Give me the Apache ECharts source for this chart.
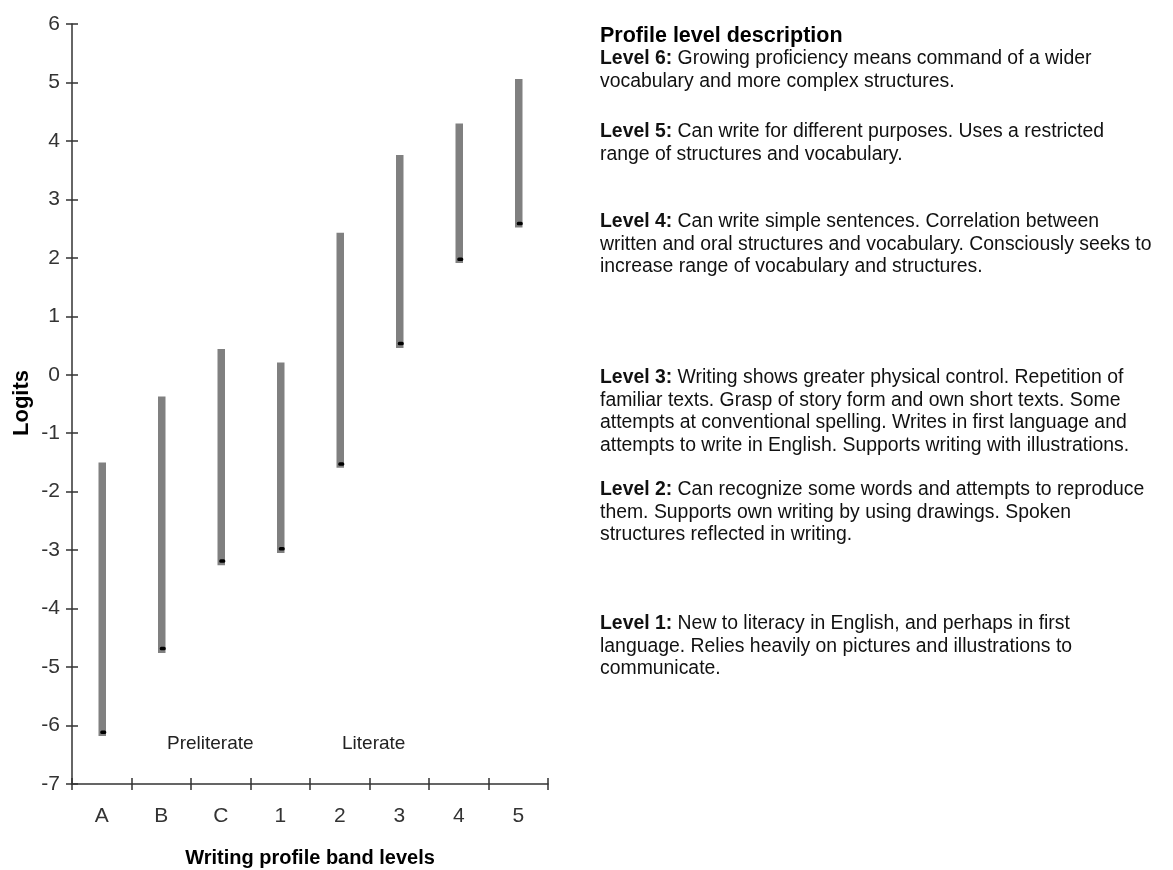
<!DOCTYPE html>
<html>
<head>
<meta charset="utf-8">
<script src="https://cdn.jsdelivr.net/npm/echarts@6/dist/echarts.min.js"></script>
<style>
html,body{margin:0;padding:0;background:#fff;}
#main{width:1173px;height:870px;}
</style>
</head>
<body>
<div id="main"></div>
<script>
var categories = ['A', 'B', 'C', '1', '2', '3', '4', '5'];
var rangeLow = [-6.18, -4.76, -3.26, -3.05, -1.59, 0.46, 1.91, 2.52];
var rangeHigh = [-1.50, -0.37, 0.44, 0.21, 2.43, 3.76, 4.30, 5.06];
var markValue = [-6.11, -4.68, -3.18, -2.97, -1.52, 0.54, 1.98, 2.59];
var yTicks = {min: -7, max: 6, interval: 1};
var axisTitleY = 'Logits';
var axisTitleX = 'Writing profile band levels';
var groupLabels = ['Preliterate', 'Literate'];
var descTitle = 'Profile level description';
var descLevels = [
  ['Level 6:', ' Growing proficiency means command of a wider', 'vocabulary and more complex structures.'],
  ['Level 5:', ' Can write for different purposes. Uses a restricted', 'range of structures and vocabulary.'],
  ['Level 4:', ' Can write simple sentences. Correlation between', 'written and oral structures and vocabulary. Consciously seeks to', 'increase range of vocabulary and structures.'],
  ['Level 3:', ' Writing shows greater physical control. Repetition of', 'familiar texts. Grasp of story form and own short texts. Some', 'attempts at conventional spelling. Writes in first language and', 'attempts to write in English. Supports writing with illustrations.'],
  ['Level 2:', ' Can recognize some words and attempts to reproduce', 'them. Supports own writing by using drawings. Spoken', 'structures reflected in writing.'],
  ['Level 1:', ' New to literacy in English, and perhaps in first', 'language. Relies heavily on pictures and illustrations to', 'communicate.']
];
var descFirstLineY = [59, 132, 222, 378, 490, 624];

var seriesData = categories.map(function (c, i) {
  return [i, rangeLow[i], rangeHigh[i], markValue[i]];
});

var FONT = '"Liberation Sans", Arial, sans-serif';
var LH = 22.5;
var chart = echarts.init(document.getElementById('main'));

var graphics = [];
graphics.push({
  type: 'text', x: 600, y: 36,
  style: {text: descTitle, font: 'bold 21.5px ' + FONT, fill: '#000', verticalAlign: 'middle'}
});
descLevels.forEach(function (lv, k) {
  var rich = '{b|' + lv[0] + '}' + lv[1];
  for (var j = 2; j < lv.length; j++) rich += '\n' + lv[j];
  graphics.push({
    type: 'text', x: 600, y: descFirstLineY[k] - LH / 2,
    style: {
      text: rich, font: '19.4px ' + FONT, fill: '#111', lineHeight: LH, verticalAlign: 'top',
      rich: {b: {font: 'bold 19.4px ' + FONT, fill: '#111', lineHeight: LH}}
    }
  });
});
graphics.push({
  type: 'text', x: 167, y: 744,
  style: {text: groupLabels[0], font: '19px ' + FONT, fill: '#222', verticalAlign: 'middle'}
});
graphics.push({
  type: 'text', x: 342, y: 744,
  style: {text: groupLabels[1], font: '19px ' + FONT, fill: '#222', verticalAlign: 'middle'}
});
graphics.push({
  type: 'text', x: 310, y: 858,
  style: {text: axisTitleX, font: 'bold 20px ' + FONT, fill: '#000', align: 'center', verticalAlign: 'middle'}
});
graphics.push({
  type: 'text', x: 22, y: 403, rotation: Math.PI / 2,
  style: {text: axisTitleY, font: 'bold 22px ' + FONT, fill: '#000', align: 'center', verticalAlign: 'middle'}
});

var tickStyle = {color: '#333', width: 1.5};
var option = {
  animation: false,
  backgroundColor: '#fff',
  grid: {left: 72, right: 625, top: 24, bottom: 86},
  xAxis: [{
    type: 'category', data: categories, boundaryGap: true, position: 'bottom',
    axisLine: {show: true, onZero: false, lineStyle: tickStyle},
    axisTick: {show: true, length: 6, lineStyle: tickStyle},
    axisLabel: {fontSize: 21, color: '#333', margin: 22, fontFamily: FONT},
    splitLine: {show: false}
  }, {
    type: 'category', data: categories, boundaryGap: true, position: 'bottom',
    axisLine: {show: false, onZero: false},
    axisTick: {show: true, inside: true, length: 6, lineStyle: tickStyle},
    axisLabel: {show: false}, splitLine: {show: false}
  }],
  yAxis: [{
    type: 'value', min: yTicks.min, max: yTicks.max, interval: yTicks.interval, position: 'left',
    axisLine: {show: true, onZero: false, lineStyle: tickStyle},
    axisTick: {show: true, length: 6, lineStyle: tickStyle},
    axisLabel: {fontSize: 21, color: '#333', margin: 12, fontFamily: FONT},
    splitLine: {show: false}
  }, {
    type: 'value', min: yTicks.min, max: yTicks.max, interval: yTicks.interval, position: 'left',
    axisLine: {show: false, onZero: false},
    axisTick: {show: true, inside: true, length: 6, lineStyle: tickStyle},
    axisLabel: {show: false}, splitLine: {show: false}
  }],
  series: [{
    type: 'custom',
    xAxisIndex: 0, yAxisIndex: 0,
    data: seriesData,
    renderItem: function (params, api) {
      var idx = api.value(0);
      var lo = api.coord([idx, api.value(1)]);
      var hi = api.coord([idx, api.value(2)]);
      var mk = api.coord([idx, api.value(3)]);
      var w = 7.5;
      return {
        type: 'group',
        children: [{
          type: 'rect',
          shape: {x: hi[0] - w / 2 + 0.5, y: hi[1], width: w, height: lo[1] - hi[1]},
          style: {fill: '#808080'}
        }, {
          type: 'rect',
          shape: {x: mk[0] - 1.5, y: mk[1] - 1.5, width: 6, height: 3.5, r: 1.5},
          style: {fill: '#000'}
        }]
      };
    }
  }],
  graphic: graphics
};
chart.setOption(option);
</script>
</body>
</html>
